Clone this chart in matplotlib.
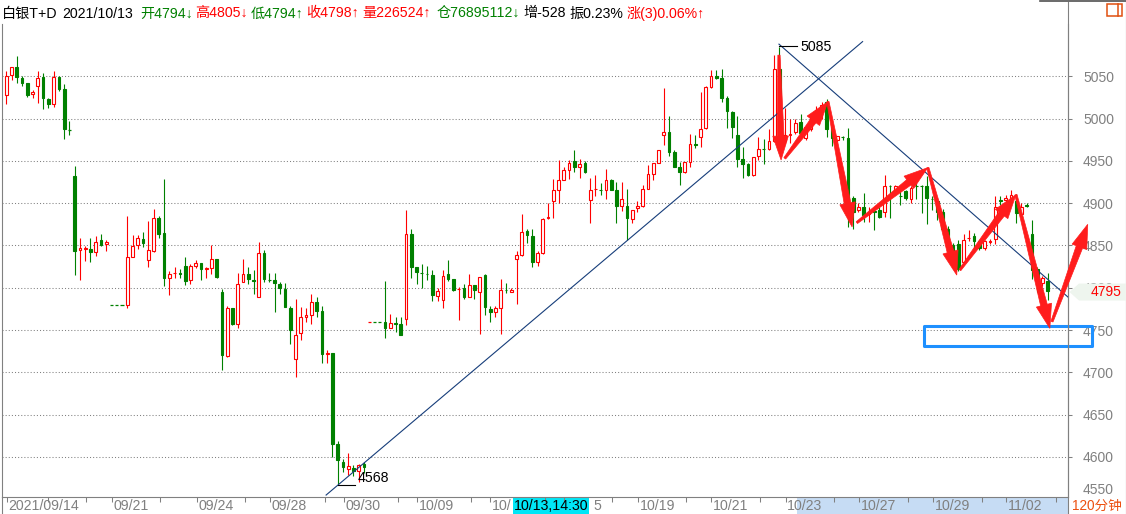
import numpy as np
import matplotlib
matplotlib.use('Agg')
import matplotlib.pyplot as plt
import matplotlib.transforms as mtransforms
from matplotlib.patches import Polygon, Rectangle
from matplotlib.lines import Line2D

plt.rcParams['font.family'] = ['Liberation Sans', 'Noto Sans CJK SC', 'DejaVu Sans']

# 120 minute candles, silver T+D
opens = [5028, 5052, 5061, 5048, 5042, 5029, 5038, 5049, 5023, 5017,
         5049, 5035, 4987, 4932, 4845, 4845.5, 4846, 4842, 4856, 4852,
         4780, 4780, 4780, 4780, 4836, 4850, 4858, 4833, 4843, 4883,
         4865, 4812, 4817, 4817, 4826, 4809, 4826, 4829, 4822.5, 4823,
         4834, 4795.5, 4719, 4776, 4757, 4807, 4816, 4809, 4789, 4841,
         4809.5, 4809.5, 4805, 4799, 4776.5, 4716, 4747, 4765, 4768, 4783,
         4772, 4722, 4723, 4615, 4594, 4586, 4587, 4584, 4592, 4760,
         4760, 4760, 4759.5, 4753, 4758, 4757, 4763, 4863, 4824, 4818,
         4816.5, 4815, 4790, 4785, 4816, 4810.6, 4798, 4800, 4789, 4803,
         4795, 4815, 4775, 4771, 4776, 4797.5, 4795, 4834, 4839, 4867,
         4861, 4831, 4841, 4882, 4902, 4916, 4927.5, 4939, 4949.5, 4943,
         4948, 4904, 4916.5, 4915.5, 4916, 4927, 4916, 4897, 4897, 4881,
         4894, 4897, 4917, 4935, 4948, 4981, 4984, 4960, 4943, 4937,
         4949, 4970, 4978, 4989, 5037, 5050, 5048, 5024.5, 5008, 4980.5,
         4952, 4946, 4933, 4956, 4964, 4963.6, 4973, 5059, 4973, 4981,
         4984, 4996, 4977, 4988, 5000, 5008, 5020, 4990, 4975, 4978.5,
         4977, 4906, 4892, 4896, 4887.5, 4890.5, 4892, 4890, 4920.5, 4914,
         4908.5, 4914, 4905, 4920.5, 4920.5, 4920, 4905, 4903, 4890, 4870,
         4850, 4852, 4831, 4858.5, 4861, 4855, 4847, 4854.5, 4857.5, 4904,
         4904, 4906, 4903, 4887.5, 4897.5, 4863, 4822, 4806, 4808]
highs = [5056, 5061, 5074, 5050, 5042, 5034, 5056, 5054, 5024, 5056,
         5050, 5041, 4997, 4944, 4859, 4849, 4859, 4861, 4863, 4857,
         4780, 4780, 4780, 4885, 4862, 4862, 4866, 4879, 4893, 4885,
         4928, 4820, 4825, 4822, 4836, 4828, 4833, 4829, 4825, 4850,
         4834, 4798, 4778, 4776, 4817, 4834, 4825, 4821, 4854, 4845,
         4817, 4817, 4807, 4806, 4779, 4787, 4777, 4776, 4793, 4789,
         4779, 4727, 4723, 4619, 4598, 4605, 4591, 4592, 4594, 4760,
         4760, 4760, 4808, 4769, 4766, 4766, 4892, 4870, 4824, 4828,
         4826, 4821, 4800, 4821, 4833, 4810.6, 4801, 4804, 4816, 4803,
         4813, 4816, 4778, 4778, 4810, 4806, 4800, 4844, 4887, 4870,
         4870, 4844, 4883, 4900, 4928, 4951, 4943, 4951, 4963, 4952,
         4950, 4930, 4933, 4924, 4940, 4928, 4925, 4925, 4917, 4892,
         4902, 4922, 4945, 4947, 4963, 5036, 5003, 4963, 4949, 4949,
         4982, 4980.5, 5031, 5038, 5058, 5058, 5059, 5026.5, 5009, 5003,
         4966, 4947, 4955, 4978, 4975.4, 4988, 5075, 5085, 5012, 4999,
         5000, 5005, 4992, 5006, 5015, 5020, 5023, 4992, 4980, 4980,
         4989, 4908, 4900, 4912, 4896, 4894, 4896, 4933, 4922, 4921,
         4920, 4916, 4920, 4923.6, 4921, 4932, 4908, 4906, 4893, 4873,
         4853, 4857, 4863.5, 4868.6, 4865, 4857, 4857, 4858, 4908, 4908,
         4910, 4915, 4911, 4900, 4900, 4880, 4825, 4814, 4818]
lows = [5017, 5046, 5042, 5038, 5025, 5024, 5018, 5011, 5012, 5014,
        5033, 4976, 4981, 4815, 4809, 4832, 4830, 4837, 4849, 4844,
        4780, 4780, 4780, 4776, 4836, 4846, 4848, 4825, 4842, 4859,
        4802, 4791, 4812, 4812, 4803, 4804, 4823, 4809, 4811, 4816,
        4811, 4703, 4718, 4756, 4752, 4807, 4804, 4793, 4789, 4807,
        4807, 4771, 4793, 4777, 4733, 4694, 4738, 4759, 4757, 4765,
        4711, 4711, 4600, 4568, 4582, 4579, 4578, 4571, 4581, 4760,
        4760, 4760, 4741, 4753, 4748, 4744, 4756, 4812, 4804, 4800,
        4809, 4784, 4784, 4776, 4807.5, 4795.7, 4762, 4787, 4789, 4787,
        4745, 4768, 4760, 4766, 4745, 4794, 4794.5, 4781, 4838, 4853,
        4825, 4826, 4840, 4881, 4883, 4900, 4927, 4929, 4937, 4930,
        4936, 4877, 4909, 4910, 4905, 4915, 4877, 4891, 4856, 4876,
        4889, 4895, 4916.5, 4927, 4947, 4969, 4956, 4943, 4922, 4936,
        4943, 4965.6, 4967, 4988, 5036, 5047, 5020, 4989, 4976.6, 4943,
        4930, 4932, 4932.5, 4951, 4946.7, 4963, 4972, 4960, 4970, 4971,
        4982, 4978, 4975, 4985, 4998, 5000, 4978, 4968, 4972, 4974.6,
        4872, 4869, 4890, 4878, 4878, 4868, 4882, 4884, 4882, 4912,
        4898, 4904, 4900, 4905, 4888, 4875, 4892, 4880, 4862, 4843,
        4822, 4820, 4828, 4855, 4847, 4845, 4845, 4852, 4852, 4898,
        4900, 4902, 4877, 4886, 4895, 4810, 4795, 4802, 4786]
closes = [5050, 5061, 5049, 5042, 5028, 5031, 5048, 5024, 5017, 5049,
          5035, 4988, 4987, 4844, 4847, 4846.5, 4842, 4854, 4851, 4854,
          4780, 4780, 4780, 4836, 4849, 4859, 4853.5, 4845, 4882, 4864,
          4812, 4816, 4818, 4816, 4807.5, 4826, 4829, 4822, 4823.5, 4834,
          4813, 4721, 4776, 4757.5, 4804, 4816, 4810, 4808, 4841, 4810,
          4809, 4805.5, 4800, 4777, 4750.4, 4744, 4765, 4768, 4783, 4772,
          4722, 4723, 4615, 4596, 4588, 4589, 4584, 4591, 4588, 4760,
          4760, 4760, 4752, 4758, 4757, 4744, 4864, 4825, 4819, 4817,
          4816, 4791, 4796.5, 4814, 4810, 4797, 4799, 4789, 4803, 4797,
          4813, 4777, 4771, 4776, 4797, 4797, 4797.6, 4839, 4866, 4862,
          4831, 4841, 4881.5, 4884, 4915, 4927.5, 4939, 4948, 4943, 4946,
          4936.5, 4916, 4917, 4915, 4927.5, 4916, 4897, 4905, 4882, 4892,
          4897, 4917, 4935, 4947, 4963, 4984, 4961, 4943, 4937, 4949,
          4969.5, 4969, 4988, 5037, 5050, 5048.5, 5024.5, 5009, 4990, 4952,
          4946, 4933.5, 4955, 4963.6, 4963.5, 4973.4, 5059, 4975, 4981, 4982,
          4995, 4983, 4990, 5002, 5010, 5016, 4988, 4977, 4979, 4978,
          4892, 4890, 4896, 4886, 4888, 4890, 4884, 4920, 4920, 4920,
          4908, 4906, 4918, 4920, 4920, 4906, 4904.5, 4890, 4870, 4850,
          4832, 4822, 4857, 4859, 4855, 4847, 4855, 4855, 4896, 4903,
          4906, 4910, 4888, 4896, 4897, 4821.5, 4806, 4812, 4796]

# drawn trend lines (candle index, price)
up_line_i = [60.8, 162.8]
up_line_p = [4555, 5091]
down_line_i = [146.9, 201.85]
down_line_p = [5088, 4789]

# red zigzag arrows
arrow_from_i = [146.9, 148.0, 156.2, 161.7, 175.2, 181.3, 191.95, 198.8]
arrow_from_p = [5075, 4953, 5020, 4877, 4942, 4821, 4910, 4760]
arrow_to_i = [147.3, 156.2, 160.8, 175.2, 180.7, 191.95, 198.4, 205.6]
arrow_to_p = [4951, 5020, 4872, 4942, 4815, 4910, 4752, 4875]

# blue target box
box_i = [174.5, 206.4]
box_p = [4731, 4754.5]

hi_idx, hi_val = 147, 5085
lo_idx, lo_val = 63, 4568
last_price = 4795

yticks = list(range(4600, 5051, 50))
tick_idx = [0.1, 7.9, 15.2, 20.1, 29.2, 36.3, 45.4, 50.1, 60.6, 64.2, 74.5, 78.1,
            88.3, 92.0, 102.4, 106.0, 115.2, 120.1, 129.2, 134.0, 143.3, 148.2,
            157.4, 162.1, 171.4, 176.2, 185.5, 190.1, 199.6]
# visible date labels (the cursor box hides parts of 10/12 and 10/15)
date_idx = [0.1, 20.1, 36.3, 50.1, 64.2, 78.1, 92.0, 111.3, 120.1, 134.0, 148.2,
            162.1, 176.2, 190.1]
date_lab = ['2021/09/14', '09/21', '09/24', '09/28', '09/30', '10/09', '10/',
            '5', '10/19', '10/21', '10/23', '10/27', '10/29', '11/02']

GREEN = '#008000'
RED = '#ff0000'
GRAY = '#808080'
NAVY = '#163d7a'
ARROW = '#ff1c1c'

header_txt = ['白银T+D', '2021/10/13', '开4794↓', '高4805↓', '低4794↑', '收4798↑',
              '量226524↑', '仓76895112↓', '增-528', '振0.23%', '涨(3)0.06%↑']
header_x = [2, 62, 140, 195, 251, 306, 362, 437, 523, 569, 627]
header_col = ['black', 'black', GREEN, RED, GREEN, RED, RED, GREEN, 'black', 'black', RED]

W, H = 1126, 514
fig = plt.figure(figsize=(W / 100, H / 100), dpi=100)
fig.patch.set_facecolor('white')


def fx(px):
    return px / W


def fy(py):
    return 1 - py / H


ax = fig.add_axes([fx(2), fy(497), 1066 / W, 473 / H])
ax.set_xlim(-0.818, 201.85)
ax.set_ylim(4552.7, 5111.8)

o = np.array(opens, float)
h = np.array(highs, float)
l = np.array(lows, float)
c = np.array(closes, float)
idx = np.arange(len(o))
prev = np.r_[c[0], c[:-1]]
up = c > o
dn = c < o
eq = c == o
col = np.where(up, RED, np.where(dn, GREEN, np.where(c > prev, RED, GREEN)))

ax.vlines(idx, l, h, colors=col, lw=0.8, zorder=2)
bw = 0.52
ax.bar(idx[up], (c - o)[up], bottom=o[up], width=bw, facecolor='white',
       edgecolor=RED, lw=0.8, zorder=3)
ax.bar(idx[dn], (o - c)[dn], bottom=c[dn], width=bw, facecolor=GREEN,
       edgecolor=GREEN, lw=0.8, zorder=3)
ax.hlines(c[eq], idx[eq] - bw / 2 - 0.05, idx[eq] + bw / 2 + 0.05, colors=col[eq],
          lw=0.9, zorder=3)

# grid and right axis
ax.set_yticks(yticks)
ax.yaxis.tick_right()
ax.grid(axis='y', color=GRAY, linestyle=(0, (1, 2)), linewidth=0.75, zorder=0)
ax.tick_params(axis='y', direction='out', length=2.9, width=0.75, colors=GRAY,
               labelsize=10, pad=7.9)
ax.set_xticks(tick_idx)
ax.tick_params(axis='x', direction='out', length=3.6, width=0.75, colors=GRAY,
               labelbottom=False)
ax.spines['top'].set_visible(False)
for s in ['left', 'right', 'bottom']:
    ax.spines[s].set_color(GRAY)
    ax.spines[s].set_linewidth(0.8)

# trend lines
ax.plot(up_line_i, up_line_p, color=NAVY, lw=0.8, zorder=4)
ax.plot(down_line_i, down_line_p, color=NAVY, lw=0.8, zorder=4)

# high / low markers
ax.plot([hi_idx - 0.1, hi_idx + 3.3], [hi_val + 0.8, hi_val + 0.8], color='black', lw=0.8, zorder=5)
ax.text(hi_idx + 3.9, hi_val, str(hi_val), fontsize=10.2, va='center', ha='left', zorder=5)
ax.plot([lo_idx, lo_idx + 3.3], [lo_val - 1, lo_val - 1], color='black', lw=0.8, zorder=5)
ax.text(lo_idx + 3.7, lo_val + 2.5, str(lo_val), fontsize=10.2, va='baseline', ha='left', zorder=5)

# blue box
ax.add_patch(Rectangle((box_i[0], box_p[0]), box_i[1] - box_i[0], box_p[1] - box_p[0],
                       fill=False, edgecolor='#1e90ff', lw=2.2, joinstyle='round',
                       clip_on=False, zorder=6))

# bottom row decorations (behind the labels)
fig.add_artist(Rectangle((fx(797), 0), (1068 - 797) / W, 17 / H, transform=fig.transFigure,
                         facecolor='#c6dcf4', edgecolor='none', zorder=-1))
fig.add_artist(Rectangle((fx(513), 0), 76 / W, 17.5 / H, transform=fig.transFigure,
                         facecolor='#00e6f6', edgecolor='none', zorder=-1))

# date labels
for i, s in zip(date_idx, date_lab):
    px = 6.3 + 5.26 * i + 1.5
    fig.text(fx(px), fy(505.5), s, fontsize=10.2, color=GRAY, va='center', ha='left')
fig.text(fx(513.5), fy(505.5), '10/13,14:30', fontsize=10.2, color='black',
         va='center', ha='left')
fig.text(fx(1072), fy(505.5), '120分钟', fontsize=9.8, color='#ec5010',
         va='center', ha='left')

# arrows in pixel space
ident = mtransforms.IdentityTransform()
for x0, y0, x1, y1 in zip(arrow_from_i, arrow_from_p, arrow_to_i, arrow_to_p):
    p0 = ax.transData.transform((x0, y0))
    p1 = ax.transData.transform((x1, y1))
    d = p1 - p0
    u = d / np.hypot(*d)
    n = np.array([-u[1], u[0]])
    b = p1 - u * 24
    pts = [p0 + n * 1.1, b + n * 3.4, b + n * 7.8, p1, b - n * 7.8, b - n * 3.4, p0 - n * 1.1]
    fig.add_artist(Polygon(pts, closed=True, transform=ident, facecolor=ARROW,
                           edgecolor=ARROW, lw=0.5, zorder=6))

# frame lines
fig.add_artist(Line2D([fx(1068.3), fx(1068.3)], [fy(2), 0], color=GRAY, lw=0.8))
fig.add_artist(Line2D([fx(1125.5), fx(1125.5)], [1, 0], color=GRAY, lw=0.8))
fig.add_artist(Line2D([fx(2), fx(2)], [fy(497), 0], color=GRAY, lw=0.8))
fig.add_artist(Line2D([fx(1040), 1], [fy(1), fy(1)], color='#505050', lw=1.2))

# right axis extras
fig.text(fx(1083), fy(490), '4550', fontsize=10, color=GRAY, va='center', ha='left')
ytag = 76.3 + (5050 - last_price) * 0.846
fig.add_artist(Polygon([(fx(1069.5), fy(ytag)), (fx(1079), fy(ytag - 8.5)), (1, fy(ytag - 8.5)),
                        (1, fy(ytag + 8.5)), (fx(1079), fy(ytag + 8.5))], closed=True,
                       transform=fig.transFigure, facecolor='#eef5ee', edgecolor='none', zorder=3))
fig.text(fx(1091), fy(ytag), str(last_price), fontsize=10, color=RED, va='center',
         ha='left', zorder=4)

# top-right icon
fig.add_artist(Rectangle((fx(1107.3), fy(15.7)), 15 / W, 11.7 / H, transform=fig.transFigure,
                         fill=False, edgecolor='#e05010', lw=1.1))
fig.add_artist(Line2D([fx(1118.3), fx(1118.3)], [fy(4), fy(15.7)], color='#e05010', lw=1.1))

# header
for s, x, cl in zip(header_txt, header_x, header_col):
    fig.text(fx(x), fy(13.5), s, fontsize=10.2, color=cl, va='center', ha='left')

fig.savefig('out.png', dpi=100)
